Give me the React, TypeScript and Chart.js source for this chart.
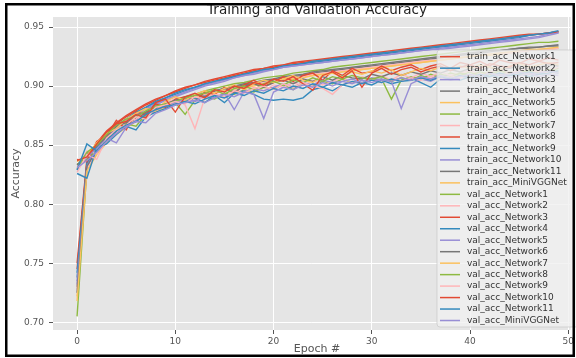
import React, { useEffect, useRef } from "react";
import { Chart, registerables } from "chart.js";
Chart.register(...registerables);

const epochs = [0,1,2,3,4,5,6,7,8,9,10,11,12,13,14,15,16,17,18,19,20,21,22,23,24,25,26,27,28,29,30,31,32,33,34,35,36,37,38,39,40,41,42,43,44,45,46,47,48,49];
const xTicks = [0, 10, 20, 30, 40, 50];
const yTicks = [0.70, 0.75, 0.80, 0.85, 0.90, 0.95];

const trainN1 = [0.745,0.836,0.851,0.861,0.868,0.874,0.879,0.884,0.888,0.892,0.895,0.898,0.901,0.903,0.905,0.907,0.909,0.911,0.913,0.915,0.916,0.918,0.919,0.920,0.921,0.922,0.923,0.924,0.925,0.926,0.927,0.928,0.929,0.930,0.931,0.932,0.933,0.934,0.935,0.936,0.937,0.938,0.939,0.940,0.941,0.942,0.943,0.944,0.945,0.946];
const trainN2 = [0.738,0.834,0.848,0.858,0.866,0.872,0.877,0.882,0.886,0.890,0.893,0.896,0.899,0.901,0.904,0.906,0.908,0.910,0.912,0.913,0.915,0.917,0.918,0.919,0.920,0.921,0.922,0.923,0.924,0.925,0.926,0.927,0.928,0.929,0.930,0.931,0.932,0.933,0.934,0.935,0.936,0.937,0.938,0.939,0.940,0.941,0.943,0.944,0.945,0.946];
const trainN3 = [0.735,0.833,0.847,0.857,0.865,0.871,0.876,0.881,0.885,0.889,0.892,0.895,0.898,0.901,0.903,0.905,0.907,0.909,0.911,0.913,0.914,0.916,0.917,0.918,0.919,0.920,0.921,0.922,0.923,0.924,0.925,0.926,0.927,0.928,0.929,0.930,0.931,0.932,0.933,0.934,0.935,0.936,0.937,0.938,0.939,0.940,0.941,0.942,0.944,0.945];
const trainN4 = [0.730,0.831,0.845,0.854,0.861,0.867,0.872,0.876,0.880,0.883,0.886,0.889,0.891,0.893,0.895,0.897,0.899,0.901,0.902,0.904,0.905,0.907,0.908,0.909,0.911,0.912,0.913,0.914,0.915,0.916,0.917,0.918,0.919,0.920,0.921,0.922,0.923,0.924,0.925,0.926,0.927,0.928,0.929,0.930,0.931,0.932,0.932,0.933,0.934,0.935];
const trainN5 = [0.722,0.829,0.843,0.853,0.860,0.866,0.871,0.875,0.879,0.882,0.885,0.888,0.890,0.892,0.894,0.896,0.898,0.899,0.901,0.902,0.904,0.905,0.906,0.908,0.909,0.910,0.911,0.912,0.913,0.914,0.915,0.916,0.917,0.918,0.919,0.920,0.921,0.922,0.923,0.924,0.925,0.926,0.926,0.927,0.928,0.929,0.930,0.931,0.931,0.932];
const trainN6 = [0.705,0.830,0.845,0.855,0.862,0.868,0.873,0.878,0.882,0.885,0.888,0.891,0.893,0.896,0.898,0.900,0.902,0.903,0.905,0.907,0.908,0.909,0.911,0.912,0.913,0.914,0.916,0.917,0.918,0.919,0.920,0.921,0.922,0.923,0.924,0.925,0.926,0.927,0.928,0.929,0.930,0.931,0.932,0.933,0.934,0.935,0.936,0.937,0.937,0.938];
const trainN7 = [0.728,0.830,0.844,0.853,0.861,0.867,0.871,0.876,0.880,0.883,0.886,0.888,0.891,0.893,0.895,0.897,0.898,0.900,0.901,0.903,0.904,0.906,0.907,0.908,0.910,0.911,0.912,0.913,0.914,0.915,0.916,0.917,0.918,0.919,0.920,0.921,0.922,0.922,0.923,0.924,0.925,0.926,0.927,0.928,0.928,0.929,0.930,0.931,0.931,0.932];
const trainN8 = [0.750,0.838,0.852,0.862,0.869,0.875,0.880,0.885,0.889,0.892,0.896,0.899,0.901,0.904,0.906,0.908,0.910,0.912,0.914,0.915,0.917,0.918,0.920,0.921,0.922,0.923,0.924,0.925,0.926,0.927,0.928,0.929,0.930,0.931,0.932,0.933,0.934,0.935,0.936,0.937,0.938,0.939,0.940,0.941,0.942,0.943,0.944,0.944,0.945,0.946];
const trainN9 = [0.742,0.835,0.849,0.859,0.866,0.872,0.878,0.882,0.887,0.890,0.894,0.897,0.899,0.902,0.904,0.906,0.908,0.910,0.912,0.914,0.915,0.917,0.918,0.919,0.921,0.922,0.923,0.924,0.925,0.926,0.927,0.928,0.929,0.930,0.931,0.932,0.933,0.934,0.935,0.936,0.937,0.938,0.939,0.940,0.941,0.942,0.943,0.944,0.945,0.947];
const trainN10 = [0.732,0.832,0.846,0.856,0.864,0.870,0.875,0.880,0.884,0.888,0.891,0.894,0.897,0.900,0.902,0.904,0.907,0.909,0.910,0.912,0.914,0.916,0.917,0.918,0.919,0.920,0.921,0.922,0.923,0.924,0.925,0.926,0.927,0.928,0.929,0.930,0.931,0.931,0.932,0.933,0.934,0.935,0.936,0.937,0.938,0.939,0.940,0.941,0.943,0.945];
const trainN11 = [0.725,0.832,0.846,0.855,0.862,0.868,0.873,0.877,0.881,0.884,0.887,0.890,0.892,0.894,0.896,0.898,0.900,0.902,0.903,0.905,0.906,0.908,0.909,0.910,0.912,0.913,0.914,0.915,0.916,0.917,0.918,0.919,0.920,0.921,0.922,0.923,0.924,0.925,0.926,0.927,0.928,0.929,0.930,0.930,0.931,0.932,0.933,0.933,0.934,0.934];
const trainMini = [0.718,0.828,0.842,0.852,0.859,0.865,0.870,0.875,0.879,0.882,0.885,0.887,0.890,0.892,0.894,0.896,0.897,0.899,0.900,0.902,0.903,0.905,0.906,0.907,0.909,0.910,0.911,0.912,0.913,0.914,0.915,0.916,0.917,0.918,0.919,0.920,0.921,0.922,0.923,0.924,0.925,0.926,0.927,0.928,0.929,0.930,0.931,0.931,0.932,0.933];

const valN1 = [0.834,0.838,0.846,0.855,0.862,0.868,0.866,0.876,0.879,0.884,0.886,0.876,0.888,0.891,0.889,0.894,0.893,0.897,0.895,0.899,0.898,0.901,0.897,0.903,0.900,0.904,0.902,0.906,0.903,0.907,0.905,0.906,0.889,0.905,0.908,0.906,0.910,0.907,0.911,0.909,0.912,0.908,0.913,0.910,0.912,0.911,0.914,0.912,0.913,0.915];
const valN2 = [0.831,0.845,0.843,0.858,0.860,0.870,0.872,0.880,0.878,0.886,0.889,0.884,0.864,0.890,0.894,0.891,0.897,0.895,0.899,0.896,0.901,0.899,0.903,0.900,0.905,0.901,0.904,0.907,0.903,0.908,0.906,0.909,0.905,0.910,0.907,0.911,0.908,0.912,0.909,0.911,0.913,0.910,0.912,0.914,0.911,0.913,0.915,0.912,0.914,0.916];
const valN3 = [0.838,0.836,0.853,0.858,0.871,0.863,0.878,0.876,0.885,0.882,0.889,0.891,0.887,0.895,0.893,0.899,0.894,0.901,0.905,0.900,0.903,0.908,0.904,0.909,0.911,0.905,0.913,0.909,0.915,0.911,0.912,0.917,0.913,0.916,0.918,0.914,0.917,0.919,0.915,0.920,0.918,0.921,0.917,0.922,0.920,0.919,0.923,0.921,0.924,0.922];
const valN4 = [0.826,0.822,0.848,0.851,0.859,0.866,0.863,0.874,0.878,0.881,0.885,0.887,0.890,0.886,0.892,0.886,0.894,0.896,0.893,0.889,0.888,0.889,0.888,0.890,0.897,0.899,0.896,0.901,0.899,0.903,0.901,0.905,0.902,0.904,0.907,0.903,0.899,0.906,0.909,0.905,0.908,0.906,0.910,0.907,0.909,0.911,0.908,0.910,0.912,0.911];
const valN5 = [0.829,0.840,0.847,0.856,0.852,0.865,0.871,0.874,0.880,0.883,0.886,0.889,0.887,0.892,0.890,0.894,0.880,0.895,0.898,0.896,0.899,0.902,0.899,0.903,0.901,0.905,0.903,0.904,0.906,0.903,0.907,0.905,0.904,0.881,0.902,0.906,0.904,0.908,0.905,0.907,0.909,0.906,0.908,0.910,0.907,0.909,0.911,0.908,0.910,0.909];
const valN6 = [0.833,0.843,0.849,0.857,0.866,0.869,0.875,0.878,0.883,0.885,0.888,0.890,0.893,0.891,0.896,0.898,0.895,0.900,0.902,0.899,0.903,0.905,0.902,0.906,0.904,0.908,0.905,0.909,0.907,0.906,0.910,0.908,0.911,0.909,0.912,0.910,0.913,0.911,0.914,0.912,0.915,0.913,0.916,0.914,0.915,0.917,0.915,0.916,0.918,0.917];
const valN7 = [0.836,0.841,0.852,0.860,0.864,0.872,0.877,0.881,0.879,0.887,0.891,0.888,0.893,0.896,0.894,0.898,0.901,0.897,0.902,0.905,0.903,0.906,0.909,0.905,0.903,0.909,0.911,0.908,0.912,0.910,0.913,0.911,0.914,0.909,0.912,0.915,0.913,0.916,0.914,0.917,0.915,0.918,0.916,0.914,0.917,0.919,0.916,0.918,0.920,0.918];
const valN8 = [0.830,0.844,0.850,0.859,0.867,0.872,0.874,0.879,0.883,0.885,0.887,0.890,0.892,0.894,0.897,0.893,0.898,0.900,0.897,0.902,0.904,0.901,0.905,0.903,0.907,0.904,0.908,0.906,0.909,0.907,0.906,0.908,0.904,0.907,0.905,0.909,0.906,0.910,0.908,0.911,0.909,0.912,0.910,0.913,0.911,0.910,0.913,0.911,0.914,0.912];
const valN9 = [0.827,0.842,0.838,0.856,0.863,0.867,0.874,0.872,0.882,0.884,0.887,0.885,0.891,0.889,0.893,0.891,0.896,0.894,0.898,0.900,0.897,0.902,0.899,0.903,0.900,0.898,0.893,0.901,0.904,0.902,0.905,0.903,0.906,0.904,0.907,0.905,0.908,0.906,0.909,0.907,0.910,0.908,0.911,0.909,0.912,0.910,0.911,0.913,0.911,0.912];
const valN10 = [0.837,0.840,0.851,0.861,0.868,0.870,0.876,0.873,0.886,0.889,0.878,0.891,0.894,0.890,0.897,0.895,0.900,0.898,0.903,0.901,0.906,0.904,0.908,0.902,0.8965,0.909,0.912,0.907,0.913,0.899,0.911,0.915,0.910,0.914,0.916,0.912,0.915,0.917,0.913,0.916,0.918,0.915,0.919,0.917,0.916,0.920,0.918,0.921,0.919,0.920];
const valN11 = [0.829,0.851,0.845,0.854,0.862,0.867,0.870,0.876,0.880,0.883,0.884,0.887,0.885,0.889,0.892,0.890,0.894,0.892,0.896,0.894,0.898,0.896,0.900,0.898,0.902,0.899,0.903,0.901,0.904,0.902,0.905,0.903,0.906,0.904,0.905,0.907,0.905,0.908,0.906,0.909,0.907,0.910,0.908,0.911,0.909,0.910,0.912,0.910,0.911,0.913];
const valMini = [0.831,0.837,0.844,0.853,0.860,0.866,0.870,0.869,0.877,0.880,0.884,0.886,0.888,0.886,0.890,0.893,0.891,0.895,0.893,0.8725,0.895,0.899,0.897,0.901,0.899,0.903,0.900,0.904,0.902,0.905,0.903,0.906,0.904,0.907,0.905,0.908,0.906,0.909,0.907,0.908,0.910,0.908,0.911,0.909,0.910,0.912,0.910,0.911,0.913,0.911];

const seriesNames = [
  "train_acc_Network1","train_acc_Network2","train_acc_Network3","train_acc_Network4",
  "train_acc_Network5","train_acc_Network6","train_acc_Network7","train_acc_Network8",
  "train_acc_Network9","train_acc_Network10","train_acc_Network11","train_acc_MiniVGGNet",
  "val_acc_Network1","val_acc_Network2","val_acc_Network3","val_acc_Network4",
  "val_acc_Network5","val_acc_Network6","val_acc_Network7","val_acc_Network8",
  "val_acc_Network9","val_acc_Network10","val_acc_Network11","val_acc_MiniVGGNet",
];
const seriesValues = [
  trainN1, trainN2, trainN3, trainN4, trainN5, trainN6, trainN7, trainN8, trainN9, trainN10, trainN11, trainMini,
  valN1, valN2, valN3, valN4, valN5, valN6, valN7, valN8, valN9, valN10, valN11, valMini,
];
const palette = ["#E24A33", "#348ABD", "#988ED5", "#777777", "#FBC15E", "#8EBA42", "#FFB5B8"];

const titleText = "Training and Validation Accuracy";
const xLabel = "Epoch #";
const yLabel = "Accuracy";
const FONT = "'DejaVu Sans', 'Liberation Sans', sans-serif";

const decor = {
  id: "decor",
  beforeDraw(chart: any) {
    const { ctx, chartArea: a, width, height } = chart;
    ctx.save();
    ctx.fillStyle = "#ffffff";
    ctx.fillRect(0, 0, width, height);
    ctx.fillStyle = "#E5E5E5";
    ctx.fillRect(a.left, a.top, a.right - a.left, a.bottom - a.top);
    ctx.restore();
  },
  afterDatasetsDraw(chart: any) {
    const { ctx } = chart;
    const ds = chart.data.datasets;
    const x0 = 437, y0 = 50, w = 150, h = 277;
    const first = 56.7, step = 11.47;
    ctx.save();
    ctx.beginPath();
    if (ctx.roundRect) ctx.roundRect(x0, y0, w, h, 3); else ctx.rect(x0, y0, w, h);
    ctx.fillStyle = "rgba(240,240,240,0.8)";
    ctx.fill();
    ctx.strokeStyle = "rgba(204,204,204,0.8)";
    ctx.lineWidth = 1;
    ctx.stroke();
    ctx.font = `9px ${FONT}`;
    ctx.textBaseline = "middle";
    ctx.textAlign = "left";
    ds.forEach((d: any, i: number) => {
      const y = first + i * step;
      ctx.strokeStyle = d.borderColor;
      ctx.lineWidth = 1.5;
      ctx.beginPath();
      ctx.moveTo(440, y);
      ctx.lineTo(460, y);
      ctx.stroke();
      ctx.fillStyle = "#333333";
      ctx.fillText(d.label, 467, y);
    });
    ctx.restore();
  },
  afterDraw(chart: any) {
    const { ctx, chartArea: a } = chart;
    ctx.save();
    ctx.fillStyle = "#222222";
    ctx.font = `13.5px ${FONT}`;
    ctx.textAlign = "center";
    ctx.textBaseline = "alphabetic";
    ctx.fillText(titleText, 317, 14);
    ctx.fillStyle = "#555555";
    ctx.font = `11px ${FONT}`;
    ctx.textBaseline = "middle";
    ctx.fillText(xLabel, 317, 349);
    ctx.translate(16, (a.top + a.bottom) / 2);
    ctx.rotate(-Math.PI / 2);
    ctx.fillText(yLabel, 0, 0);
    ctx.restore();
    ctx.save();
    ctx.fillStyle = "#000000";
    ctx.fillRect(5, 3, 570, 2.5);
    ctx.fillRect(5, 354.5, 570, 2.5);
    ctx.fillRect(5, 3, 2.5, 354);
    ctx.fillRect(572.5, 3, 2.5, 354);
    ctx.restore();
  },
};

export default function App() {
  const ref = useRef<HTMLCanvasElement | null>(null);
  useEffect(() => {
    document.body.style.margin = "0";
    const canvas = ref.current!;
    const datasets = seriesValues.map((vals, i) => ({
      label: seriesNames[i],
      data: vals.map((v, j) => ({ x: epochs[j], y: v })),
      borderColor: palette[i % palette.length],
      backgroundColor: palette[i % palette.length],
      borderWidth: 1.4,
      pointRadius: 0,
      tension: 0,
      fill: false,
      order: seriesValues.length - i,
    }));
    const tickFont = { family: FONT, size: 9 };
    const chart = new Chart(canvas, {
      type: "line",
      data: { datasets },
      plugins: [decor],
      options: {
        responsive: false,
        animation: false,
        events: [],
        layout: { padding: { top: 17, right: 4, left: 0, bottom: 0 }, autoPadding: false },
        plugins: { legend: { display: false }, tooltip: { enabled: false }, title: { display: false } },
        scales: {
          x: {
            type: "linear",
            min: -2.45,
            max: 50.24,
            afterBuildTicks: (s: any) => { s.ticks = xTicks.map((v) => ({ value: v })); },
            afterFit: (s: any) => { s.height = 28; },
            ticks: { color: "#555555", font: tickFont, padding: 2, maxRotation: 0, callback: (v: any) => String(v) },
            grid: { color: "#ffffff", lineWidth: 1, tickColor: "#555555", tickLength: 4, drawTicks: true },
            border: { display: false },
          },
          y: {
            type: "linear",
            min: 0.6935,
            max: 0.9585,
            afterBuildTicks: (s: any) => { s.ticks = yTicks.map((v) => ({ value: v })); },
            afterFit: (s: any) => { s.width = 53; },
            ticks: { color: "#555555", font: tickFont, padding: 5, callback: (v: any) => Number(v).toFixed(2) },
            grid: { color: "#ffffff", lineWidth: 1, tickColor: "#555555", tickLength: 4, drawTicks: true },
            border: { display: false },
          },
        },
      },
    } as any);
    return () => chart.destroy();
  }, []);
  return (
    <div style={{ width: 576, height: 358 }}>
      <canvas ref={ref} width={576} height={358} style={{ display: "block" }} />
    </div>
  );
}
